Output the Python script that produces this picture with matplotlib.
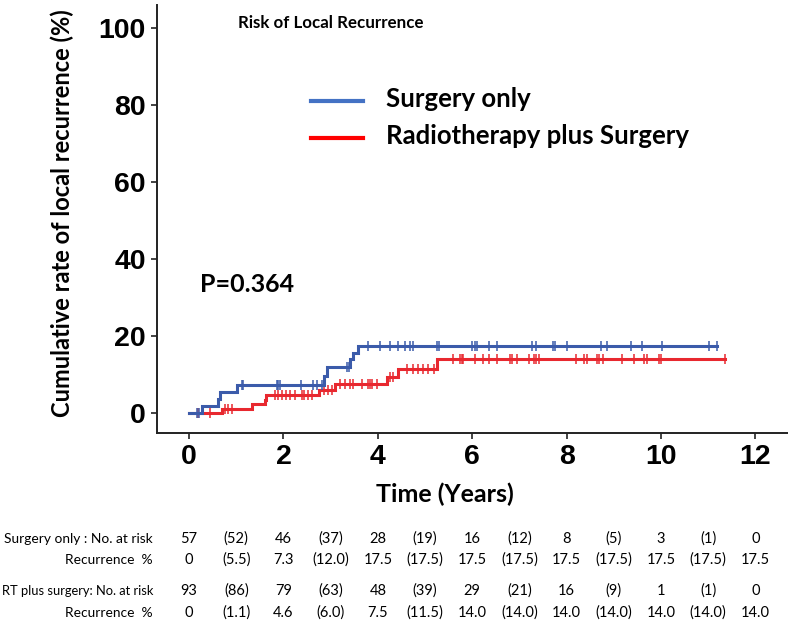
import numpy as np
import matplotlib.pyplot as plt
from matplotlib.lines import Line2D

# step curves (years, cumulative %)
blue_t = [0, 0.27, 0.62, 0.66, 1.02, 2.86, 2.93, 3.40, 3.47, 3.58, 11.19]
blue_v = [0, 1.8, 3.6, 5.5, 7.3, 9.6, 12.0, 13.9, 15.7, 17.5, 17.5]
blue_cens = [0.16, 0.22, 1.12, 1.15, 1.86, 1.89, 1.93, 2.37, 2.62, 2.72, 2.81,
             3.34, 3.38, 3.80, 4.05, 4.26, 4.43, 4.58, 4.68, 4.74, 5.25, 5.29,
             5.99, 6.06, 6.10, 6.36, 6.53, 7.26, 7.36, 7.72, 7.75, 8.01, 8.73,
             8.86, 9.36, 9.59, 10.01, 11.02, 11.19]

red_t = [0, 0.70, 1.33, 1.60, 1.64, 2.76, 3.09, 4.19, 4.43, 5.25, 11.36]
red_v = [0, 1.1, 2.3, 3.45, 4.6, 6.0, 7.5, 9.4, 11.5, 14.0, 14.0]
red_cens = [0.19, 0.44, 0.76, 0.83, 0.90, 1.82, 1.89, 1.96, 2.06, 2.14, 2.25,
            2.39, 2.44, 2.53, 2.60, 2.85, 2.95, 3.02, 3.20, 3.31, 3.41, 3.48,
            3.66, 3.80, 3.83, 3.87, 3.98, 4.26, 4.33, 4.61, 4.75, 4.86, 4.96,
            5.07, 5.18, 5.59, 5.73, 5.78, 5.81, 6.05, 6.22, 6.36, 6.52, 6.79,
            6.84, 6.94, 7.21, 7.30, 7.35, 7.42, 8.20, 8.36, 8.43, 8.64, 8.69,
            8.76, 9.18, 9.43, 9.64, 9.71, 9.96, 10.00, 11.36]

# risk table
table_years = list(range(13))
surg_risk = ['57', '(52)', '46', '(37)', '28', '(19)', '16', '(12)', '8', '(5)', '3', '(1)', '0']
surg_rec = ['0', '(5.5)', '7.3', '(12.0)', '17.5', '(17.5)', '17.5', '(17.5)', '17.5',
            '(17.5)', '17.5', '(17.5)', '17.5']
rt_risk = ['93', '(86)', '79', '(63)', '48', '(39)', '29', '(21)', '16', '(9)', '1', '(1)', '0']
rt_rec = ['0', '(1.1)', '4.6', '(6.0)', '7.5', '(11.5)', '14.0', '(14.0)', '14.0',
          '(14.0)', '14.0', '(14.0)', '14.0']

legend_labels = ['Surgery only', 'Radiotherapy plus Surgery']

BLUE = '#3B5BAA'
RED = '#E8282F'
SANS = 'Lato'
TICKF = 'Liberation Sans'
W, H = 788, 622

fig = plt.figure(figsize=(W / 100, H / 100), dpi=100)
ax = fig.add_axes([157 / W, 1 - 433 / H, 1 - 157 / W, 428 / H])


def level_at(ts, vs, c):
    i = np.searchsorted(ts, c, side='right') - 1
    return np.asarray(vs)[i]


for ts, vs, cens, col in [(red_t, red_v, red_cens, RED), (blue_t, blue_v, blue_cens, BLUE)]:
    ax.step(ts, vs, where='post', color=col, lw=2.2, solid_joinstyle='miter')
    ax.plot(cens, level_at(ts, vs, cens), ls='none', marker='|', ms=6.5, mew=1.1, color=col)

ax.set_xlim(-0.68, 12.69)
ax.set_ylim(-5.2, 106)
ax.set_xticks([0, 2, 4, 6, 8, 10, 12])
ax.set_yticks([0, 20, 40, 60, 80, 100])
for sp in ['top', 'right']:
    ax.spines[sp].set_visible(False)
for sp in ['left', 'bottom']:
    ax.spines[sp].set_linewidth(1.4)
    ax.spines[sp].set_color('#222222')
ax.tick_params(length=4, width=1.2, color='#222222', pad=4)
for lab in ax.get_xticklabels() + ax.get_yticklabels():
    lab.set_fontfamily(TICKF)
    lab.set_fontweight('bold')
    lab.set_fontsize(20.5)

fig.text(445 / W, 1 - 494 / H, 'Time (Years)', ha='center', va='center',
         fontfamily=SANS, fontweight='bold', fontsize=18)
fig.text(62 / W, 1 - 213 / H, 'Cumulative rate of local recurrence (%)', rotation=90,
         ha='center', va='center', fontfamily=SANS, fontweight='bold', fontsize=17)

fig.text(238 / W, 1 - 23 / H, 'Risk of Local Recurrence', ha='left', va='center',
         fontfamily=SANS, fontweight='bold', fontsize=12.2)
fig.text(200 / W, 1 - 284 / H, 'P=0.364', ha='left', va='center',
         fontfamily=SANS, fontweight='bold', fontsize=18)

# legend drawn by hand
for y, lab, col in zip([101, 138], legend_labels, ['#4472C4', '#FF0000']):
    fig.add_artist(Line2D([311 / W, 363 / W], [1 - y / H, 1 - y / H], color=col, lw=3))
    fig.text(386 / W, 1 - (y - 2) / H, lab, ha='left', va='center',
             fontfamily=SANS, fontweight='bold', fontsize=18.5)

# table rows
row_y = [539, 560, 591, 613]
rows = [surg_risk, surg_rec, rt_risk, rt_rec]
labels = ['Surgery only : No. at risk', 'Recurrence  %', 'RT plus surgery: No. at risk', 'Recurrence  %']
label_size = [9.9, 9.9, 9.3, 9.9]
for y, vals, lab, fs in zip(row_y, rows, labels, label_size):
    yf = 1 - y / H
    fig.text(153 / W, yf, lab, ha='right', va='center', fontfamily=SANS, fontsize=fs)
    for yr, v in zip(table_years, vals):
        xd = ax.transData.transform((yr, 0))[0]
        xf = fig.transFigure.inverted().transform((xd, 0))[0]
        fig.text(xf, yf, v, ha='center', va='center', fontfamily=SANS, fontsize=10.5)

fig.savefig('out.png', dpi=100)
